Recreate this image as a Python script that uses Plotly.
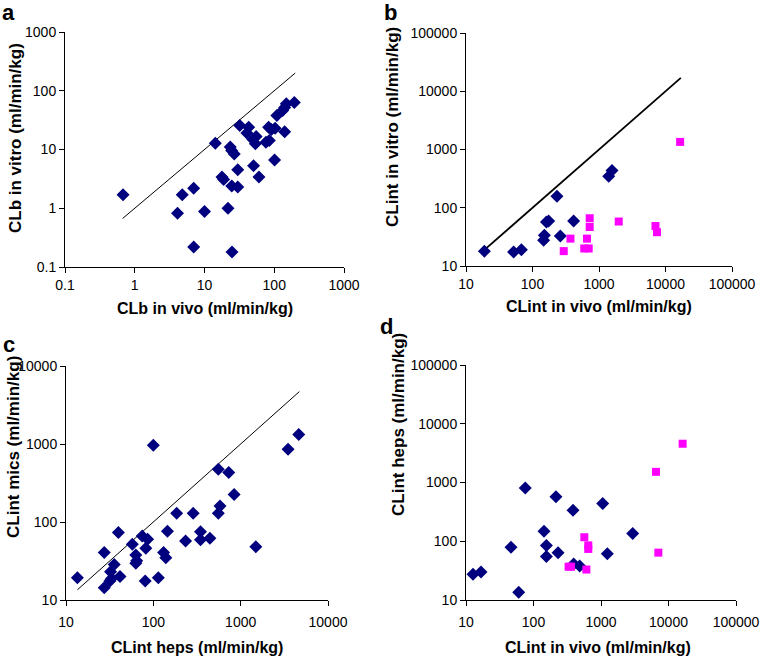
import math
import plotly.graph_objects as go

# ---------------- data ----------------
# Panel a: CLb in vivo vs CLb in vitro
a_x = [0.68, 4.1, 4.8, 7.0, 7.0, 10, 14.3, 17.8, 18.8, 21.7, 23.4, 24.5, 26.7, 24.6, 30, 30, 24.8,
       32, 43, 40.5, 49.5, 55, 53.6, 50.5, 60.3, 76, 85, 83, 91, 103, 101, 109, 132, 141, 149, 194, 141]
a_y = [1.7, 0.82, 1.7, 2.2, 0.22, 0.88, 12.8, 3.4, 3.1, 1.0, 11, 9.6, 8.4, 2.4, 2.3, 4.5, 0.18,
       25.7, 24, 19, 14.8, 16.6, 12.5, 5.3, 3.4, 13.3, 14.2, 24, 21.9, 23, 6.6, 38, 46, 52, 60, 63, 20]
a_line = [0.67, 200]

# Panel b: CLint in vivo vs CLint in vitro
b_blue_x = [18.9, 52, 68, 147, 151, 162, 175, 233, 262, 415, 1400, 1570]
b_blue_y = [18, 17.4, 19, 27.6, 33.6, 57, 59, 157, 32.7, 59, 347, 437]
b_pink_x = [295, 372, 600, 700, 660, 725, 725, 1980, 7070, 7450, 16600]
b_pink_y = [18, 29.5, 20, 20, 29.5, 46.7, 66, 58, 48.6, 38, 1350]
b_line = [18, 17000]

# Panel c: CLint heps vs CLint mics
c_x = [13.5, 27.4, 27.4, 31.8, 32.4, 33.3, 35.7, 39.8, 41.5, 57.5, 63, 64.5, 63, 74.6, 82, 86, 80.7,
       100, 114, 131, 139, 145, 185, 234, 286, 347, 347, 444, 555, 555, 580, 731, 842, 1490, 3490, 4625]
c_y = [19.3, 40.7, 14.4, 17.5, 23, 18.9, 28.6, 73.5, 20, 52, 37.7, 31.8, 29.5, 66, 46, 60, 17.5,
       966, 19.3, 40.7, 34.9, 76, 129, 57, 129, 75, 59, 62, 475, 129, 160, 430, 225, 48, 857, 1320]
c_line = [13.5, 4700]

# Panel d: CLint in vivo vs CLint heps
d_blue_x = [12.7, 16.7, 46.4, 60.4, 75.5, 143, 155, 155, 215, 231, 385, 394, 483, 1060, 1240, 2950]
d_blue_y = [27.4, 30, 79, 13.5, 810, 148, 85, 55, 570, 64, 336, 41, 38, 437, 61, 136]
d_pink_x = [331, 360, 566, 607, 648, 648, 6530, 7070, 16200]
d_pink_y = [36.9, 36.9, 117, 33, 85, 74, 1520, 64, 4570]

ticks_a = [0.1, 1, 10, 100, 1000]
ticks_b = [10, 100, 1000, 10000, 100000]
ticks_c = [10, 100, 1000, 10000]
ticks_d = [10, 100, 1000, 10000, 100000]

# ---------------- style ----------------
NAVY = "#00007F"
PINK = "#FF00FF"
FONT = "Liberation Sans, Arial, sans-serif"
W, H = 761, 657

diamond = dict(symbol="diamond", size=10, color=NAVY, line=dict(width=0))
square = dict(symbol="square", size=8, color=PINK, line=dict(width=0))

fig = go.Figure()


def add(x, y, xa, ya, mode="markers", marker=None, line=None):
    fig.add_trace(go.Scatter(x=x, y=y, xaxis=xa, yaxis=ya, mode=mode,
                             marker=marker, line=line, showlegend=False,
                             hoverinfo="x+y"))


add(a_line, a_line, "x", "y", mode="lines", line=dict(color="black", width=1))
add(a_x, a_y, "x", "y", marker=diamond)

add(b_line, b_line, "x2", "y2", mode="lines", line=dict(color="black", width=1.8))
add(b_blue_x, b_blue_y, "x2", "y2", marker=diamond)
add(b_pink_x, b_pink_y, "x2", "y2", marker=square)

add(c_line, c_line, "x3", "y3", mode="lines", line=dict(color="black", width=1))
add(c_x, c_y, "x3", "y3", marker=diamond)

add(d_blue_x, d_blue_y, "x4", "y4", marker=diamond)
add(d_pink_x, d_pink_y, "x4", "y4", marker=square)


def fx(px):
    return px / W


def fy(py):
    return 1 - py / H


def px_dom(a, b):
    return [fx(a), fx(b)]


def py_dom(top, bottom):
    return [fy(bottom), fy(top)]


XT_FONT = dict(family=FONT, size=16, color="black")
YT_FONT = dict(family=FONT, size=17, color="black")


def axis(ticks, dom, anchor, labeloff=0):
    return dict(type="log", range=[math.log10(ticks[0]), math.log10(ticks[-1])], domain=dom,
                anchor=anchor, tickvals=ticks, ticktext=[f"{t:g}" for t in ticks],
                automargin=False,
                showline=True, linecolor="black", linewidth=1, ticks="outside", ticklen=5,
                tickcolor="black", showgrid=False, zeroline=False, ticklabelstandoff=labeloff,
                tickfont=dict(family=FONT, size=14, color="black"))


fig.update_layout(
    template="none",
    width=W, height=H, margin=dict(l=0, r=0, t=0, b=0, pad=0, autoexpand=False),
    paper_bgcolor="white", plot_bgcolor="white", showlegend=False,
    xaxis=axis(ticks_a, px_dom(65, 344), "y"),
    yaxis=axis(ticks_a, py_dom(32, 267), "x"),
    xaxis2=axis(ticks_b, px_dom(466, 732), "y2"),
    yaxis2=axis(ticks_b, py_dom(33, 266), "x2"),
    xaxis3=axis(ticks_c, px_dom(66, 328), "y3", 4),
    yaxis3=axis(ticks_c, py_dom(366, 600), "x3"),
    xaxis4=axis(ticks_d, px_dom(466, 736), "y4", 4),
    yaxis4=axis(ticks_d, py_dom(365, 600), "x4"),
)

# x-axis titles
for text, x, y in [("CLb in vivo (ml/min/kg)", 205, 308),
                   ("CLint in vivo (ml/min/kg)", 599, 307),
                   ("CLint heps (ml/min/kg)", 197, 647),
                   ("CLint in vivo (ml/min/kg)", 598, 647)]:
    fig.add_annotation(text=f"<b>{text}</b>", x=fx(x), y=fy(y), xref="paper", yref="paper",
                       xanchor="center", yanchor="middle", showarrow=False, font=XT_FONT)

# y-axis titles (placed like the original, slightly above axis centre)
for text, x, y in [("CLb in vitro (ml/min/kg)", 15, 138),
                   ("CLint in vitro (ml/min/kg)", 393, 127),
                   ("CLint mics (ml/min/kg)", 13, 447),
                   ("CLint heps (ml/min/kg)", 398, 425)]:
    fig.add_annotation(text=f"<b>{text}</b>", x=fx(x), y=fy(y), xref="paper", yref="paper",
                       xanchor="center", yanchor="middle", textangle=-90, showarrow=False,
                       font=YT_FONT)

# panel letters
for letter, x, y in [("a", 0, 12), ("b", 382, 12), ("c", 1, 344), ("d", 378, 327)]:
    fig.add_annotation(text=f"<b>{letter}</b>", x=fx(x), y=fy(y), xref="paper", yref="paper",
                       xanchor="left", yanchor="middle", showarrow=False,
                       font=dict(family=FONT, size=22, color="black"))

fig.write_html("out.html", config={"displayModeBar": False},
               post_script="document.body.style.margin='0px';")
